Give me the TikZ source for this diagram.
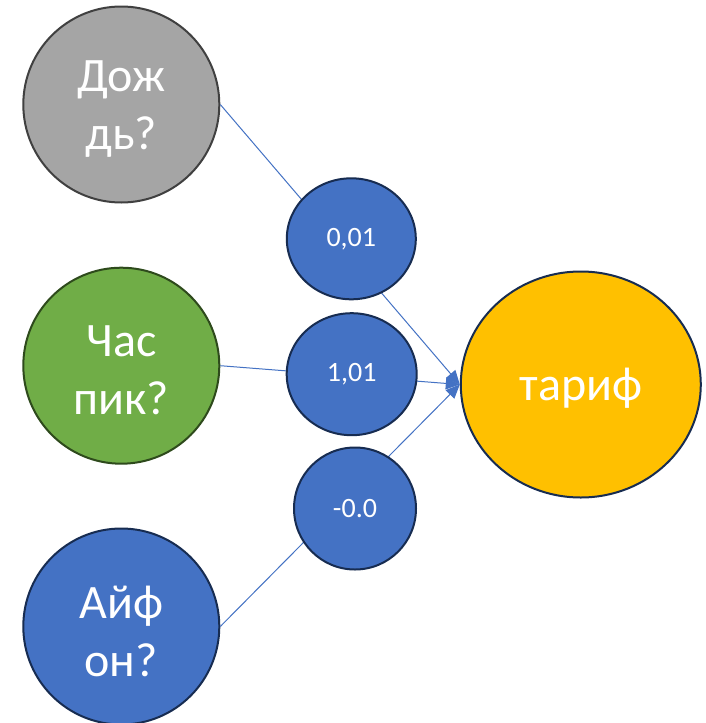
\documentclass[tikz,border=0pt]{standalone}
\usepackage{fontspec}
\setmainfont{Carlito}
\usetikzlibrary{shapes.geometric,arrows.meta}
\definecolor{grayf}{HTML}{A5A5A5}
\definecolor{grayd}{HTML}{404040}
\definecolor{greenf}{HTML}{70AD47}
\definecolor{greend}{HTML}{2E4A1C}
\definecolor{bluef}{HTML}{4472C4}
\definecolor{blued}{HTML}{172C51}
\definecolor{orangef}{HTML}{FFC000}
\definecolor{linec}{HTML}{4472C4}
\tikzset{
  bigc/.style={ellipse, inner sep=0pt, line width=2pt, minimum width=196pt, minimum height=196pt},
  bigtxt/.style={align=center, text=white, inner sep=0pt, font=\fontsize{48}{58}\selectfont},
  wc/.style={ellipse, inner sep=0pt, line width=2pt, fill=bluef, draw=blued, text=white, font=\fontsize{28}{32}\selectfont},
  farec/.style={ellipse, inner sep=0pt, line width=2pt, fill=orangef, draw=blued, minimum width=240pt, minimum height=226pt},
  conn/.style={draw=linec, line width=1pt, -{Triangle[length=14pt,width=12pt,fill=linec]}}
}
\begin{document}
\begin{tikzpicture}[x=1pt,y=-1pt]
\useasboundingbox (0,0) rectangle (705,723);
\clip (0,0) rectangle (705,723);
\fill[white] (0,0) rectangle (705,723);
% input circles
\node[bigc, fill=grayf, draw=grayd] (rain) at (121.3,104.5) {};
\node[bigtxt] (rainT) at ([yshift=-5pt]rain.center) {Дож\\дь?};
\node[bigc, fill=greenf, draw=greend] (peak) at (121.3,365.7) {};
\node[bigtxt] (peakT) at ([yshift=-5pt]peak.center) {Час\\пик?};
\node[bigc, fill=bluef, draw=blued] (phone) at (121.3,626.5) {};
\node[bigtxt] (phoneT) at ([yshift=-5pt]phone.center) {Айф\\он?};
% output
\node[farec] (fare) at (580.8,384.5) {};
\node[bigtxt] (fareT) at ([yshift=-4pt]fare.center) {тариф};
% connectors
\draw[conn] (rain.east) -- (fare.west);
\draw[conn] (peak.east) -- (fare.west);
\draw[conn] (phone.east) -- (fare.west);
% weights
\node[wc, minimum width=129pt, minimum height=121pt] (w1) at (351.3,238.8) {0,01};
\node[wc, minimum width=130pt, minimum height=122pt] (w2) at (351.7,374.2) {1,01};
\node[wc, minimum width=122pt, minimum height=122pt] (w3) at (355,508.5) {-0.0};
\end{tikzpicture}
\end{document}
